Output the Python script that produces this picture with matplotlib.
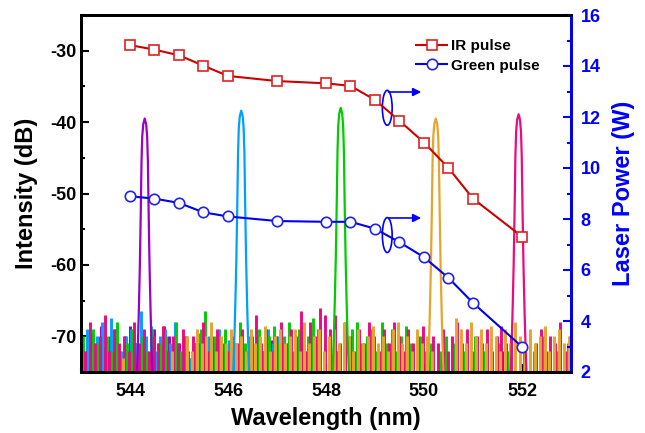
import numpy as np
import matplotlib
matplotlib.use("Agg")
import matplotlib.pyplot as plt
from matplotlib import patches
from matplotlib.ticker import MultipleLocator

plt.rcParams['font.family'] = ['Liberation Sans', 'DejaVu Sans']
plt.rcParams['font.weight'] = 'bold'
plt.rcParams['axes.unicode_minus'] = False

# laser power vs pump wavelength (right axis)
wl_power = [544.0, 544.5, 545.0, 545.5, 546.0, 547.0, 548.0, 548.5, 549.0,
            549.5, 550.0, 550.5, 551.0, 552.0]
ir_power = [14.82, 14.64, 14.42, 14.01, 13.61, 13.41, 13.32, 13.22, 12.67,
            11.85, 11.0, 10.0, 8.8, 7.31]
green_power = [8.89, 8.80, 8.63, 8.26, 8.10, 7.92, 7.89, 7.89, 7.62,
               7.09, 6.50, 5.69, 4.71, 2.99]

# spectra (left axis): noise floor sampled every 0.1 nm from 543 to 553
noise_wl = np.linspace(543.0, 553.0, 101)
purple_noise = [-70, -72, -69.5, -71, -68.5, -71.5, -70, -69, -72, -70, -68.5,
                -71, -77, -77, -77, -69, -71, -68.5, -70, -72, -71,
                -70, -73, -71, -77, -72, -77, -71, -77, -77, -72,
                -77, -77, -71.5, -77, -77, -77, -72, -77, -70.5, -77,
                -71, -77, -77, -72, -77, -77, -77, -71, -77, -77,
                -77, -72, -77, -77, -77, -77, -77, -72, -77, -77,
                -77, -77, -77, -77, -72.5, -77, -77, -77, -77, -77,
                -77, -77, -77, -72, -77, -77, -77, -77, -77, -77,
                -77, -77, -77, -77, -77, -72, -77, -77, -77, -77,
                -77, -77, -77, -77, -77, -77, -77, -77, -77, -77]
blue_noise = [-71, -69, -72, -70, -68, -71, -67.5, -69.5, -72, -70, -69,
              -71, -66.5, -70, -68.5, -72, -70, -69, -71, -68, -72,
              -70, -73, -71, -69.5, -72, -70, -71, -69, -72, -70.5,
              -71, -77, -77, -77, -77, -70, -72, -69, -71, -70,
              -72, -71, -77, -70.5, -77, -72, -77, -71, -77, -77,
              -77, -72, -77, -77, -77, -77, -72, -77, -77, -77,
              -77, -77, -77, -77, -77, -77, -77, -77, -77, -77,
              -77, -77, -77, -77, -77, -77, -77, -77, -77, -77,
              -77, -77, -77, -77, -77, -77, -77, -77, -77, -77,
              -77, -77, -77, -77, -77, -77, -77, -77, -77, -77]
green_noise = [-70, -77, -69, -71, -77, -70, -72, -68, -77, -71, -69,
               -77, -70, -72, -69, -77, -71, -70, -77, -68, -72,
               -70, -77, -71, -69, -66.5, -72, -70, -77, -69, -71,
               -77, -68, -71, -70, -77, -69, -72, -70, -68.5, -71,
               -70, -68, -72, -69, -71, -70, -67.5, -69, -77, -77,
               -77, -77, -77, -77, -69, -68, -71, -70, -69, -72,
               -68, -71, -69, -72, -70, -68.5, -71, -77, -70, -72,
               -71, -77, -72, -70, -77, -71, -77, -72, -77, -70,
               -77, -72, -77, -77, -71, -77, -72, -77, -77, -71,
               -77, -72, -77, -70, -77, -77, -72, -77, -71, -77]
orange_noise = [-77, -77, -77, -77, -77, -77, -77, -77, -73, -77, -77,
                -77, -77, -77, -77, -77, -77, -77, -72, -77, -77,
                -70, -72, -69, -71, -70, -68, -72, -70, -71, -69,
                -71, -70, -72, -69, -71, -70, -68.5, -72, -70, -69,
                -71, -70, -69, -72, -68, -71, -70, -69, -72, -70,
                -69, -71, -68, -70, -72, -69, -71, -70, -68.5, -71,
                -70, -72, -69, -68, -71, -70, -72, -69, -71, -70,
                -72, -77, -77, -77, -77, -67.5, -69, -71, -68, -70,
                -69, -71, -68.5, -70, -72, -69, -71, -68, -70, -72,
                -69, -71, -70, -68.5, -72, -70, -69, -71, -70, -72]
pink_noise = [-72, -68, -71, -70, -67, -72, -69, -71, -70, -72, -68,
              -71, -69, -72, -70, -71, -68.5, -72, -70, -71, -69,
              -72, -70, -71, -68, -72, -70, -69, -71, -72, -70,
              -71, -69, -72, -70, -67, -71, -69, -72, -70, -68,
              -71, -69, -70, -66.5, -72, -68, -70, -66, -67, -69,
              -67, -71, -68, -70, -72, -69, -71, -68, -70, -72,
              -69, -71, -68, -70, -72, -69, -71, -70, -68.5, -72,
              -70, -71, -69, -72, -70, -68, -71, -69, -72, -70,
              -71, -69, -72, -70, -68.5, -71, -70, -77, -77, -77,
              -77, -71, -69, -72, -70, -71, -68, -72, -70, -71]

# shape of one spectral line: offset from centre (nm) and drop below its top (dB)
peak_offset = [-0.17, -0.14, -0.12, -0.10, -0.08, -0.065, -0.05, -0.03, 0.0,
               0.03, 0.05, 0.065, 0.08, 0.10, 0.12, 0.14, 0.17]
peak_drop = [38, 32, 27, 21, 13, 6, 2.5, 0.8, 0, 0.8, 2.5, 6, 13, 21, 27, 32, 38]
peak_center = [544.30, 546.27, 548.30, 550.24, 551.93]
peak_top = [-39.5, -38.4, -38.0, -39.5, -38.9]

spec_colors = ['#9B00C8', '#00A0FF', '#00CC00', '#E6A52A', '#EB0A82']
noises = [purple_noise, blue_noise, green_noise, orange_noise, pink_noise]
grid_shift = [0.0, 0.02, 0.04, 0.06, 0.08]
draw_order = [0, 1, 2, 4, 3]

fig = plt.figure(figsize=(6.45, 4.33), dpi=100)
ax = fig.add_axes([81 / 645, 61 / 433, 490 / 645, 357 / 433])
ax2 = ax.twinx()

for k in draw_order:
    ax.vlines(noise_wl + grid_shift[k], -76, noises[k], color=spec_colors[k], lw=2.1)
for k in range(5):
    xs = peak_center[k] + np.array(peak_offset)
    ys = peak_top[k] - np.array(peak_drop)
    ax.plot(xs, ys, color=spec_colors[k], lw=1.6)

ax.set_xlim(543, 553)
ax.set_ylim(-75, -25)
ax.xaxis.set_major_locator(MultipleLocator(2))
ax.xaxis.set_minor_locator(MultipleLocator(1))
ax.yaxis.set_major_locator(MultipleLocator(10))
ax.yaxis.set_minor_locator(MultipleLocator(5))
ax.tick_params(which='both', direction='in', width=1.5, labelsize=13, top=False, right=False)
ax.tick_params(axis='y', pad=3)
ax.tick_params(axis='x', pad=8)
ax.tick_params(which='major', length=6)
ax.tick_params(which='minor', length=3)
ax.set_xlabel('Wavelength (nm)', fontsize=17, fontweight='bold', labelpad=5)
ax.set_ylabel('Intensity (dB)', fontsize=17, fontweight='bold', labelpad=9)
for s in ax.spines.values():
    s.set_linewidth(2)

ax2.plot(wl_power, ir_power, color='#CC0000', lw=1.5, marker='s', ms=7,
         mfc='white', mec='#DD2222', mew=1.2, label='IR pulse')
ax2.plot(wl_power, green_power, color='#0000EE', lw=1.5, marker='o', ms=7.5,
         mfc='white', mec='#2222EE', mew=1.2, label='Green pulse')
ax2.set_ylim(2, 16)
ax2.yaxis.set_major_locator(MultipleLocator(2))
ax2.yaxis.set_minor_locator(MultipleLocator(1))
ax2.tick_params(which='both', direction='in', width=1.5, colors='#0000FF', labelsize=13, pad=7)
ax2.tick_params(which='major', length=6)
ax2.tick_params(which='minor', length=3)
ax2.set_ylabel('Laser Power (W)', fontsize=17, fontweight='bold', color='#0000FF', labelpad=8)
for s in ax2.spines.values():
    s.set_linewidth(2)
ax2.spines['right'].set_color('#0000FF')

leg = ax2.legend(loc='upper right', bbox_to_anchor=(0.965, 0.97), frameon=False,
                 fontsize=11, handlelength=2.0, handletextpad=0.3, labelspacing=0.35)
for t in leg.get_texts():
    t.set_fontweight('bold')

# ellipses with arrows pointing to the right axis
for cy, ay in [(12.36, 12.98), (7.37, 8.04)]:
    ax2.add_patch(patches.Ellipse((549.25, cy), 0.2, 1.37, fill=False, ec='#0000FF', lw=1.2))
    ax2.annotate('', xy=(550.0, ay), xytext=(549.22, ay),
                 arrowprops=dict(arrowstyle='-|>', color='#0000FF', lw=1.2, mutation_scale=12))

fig.savefig('out.png', dpi=100)
